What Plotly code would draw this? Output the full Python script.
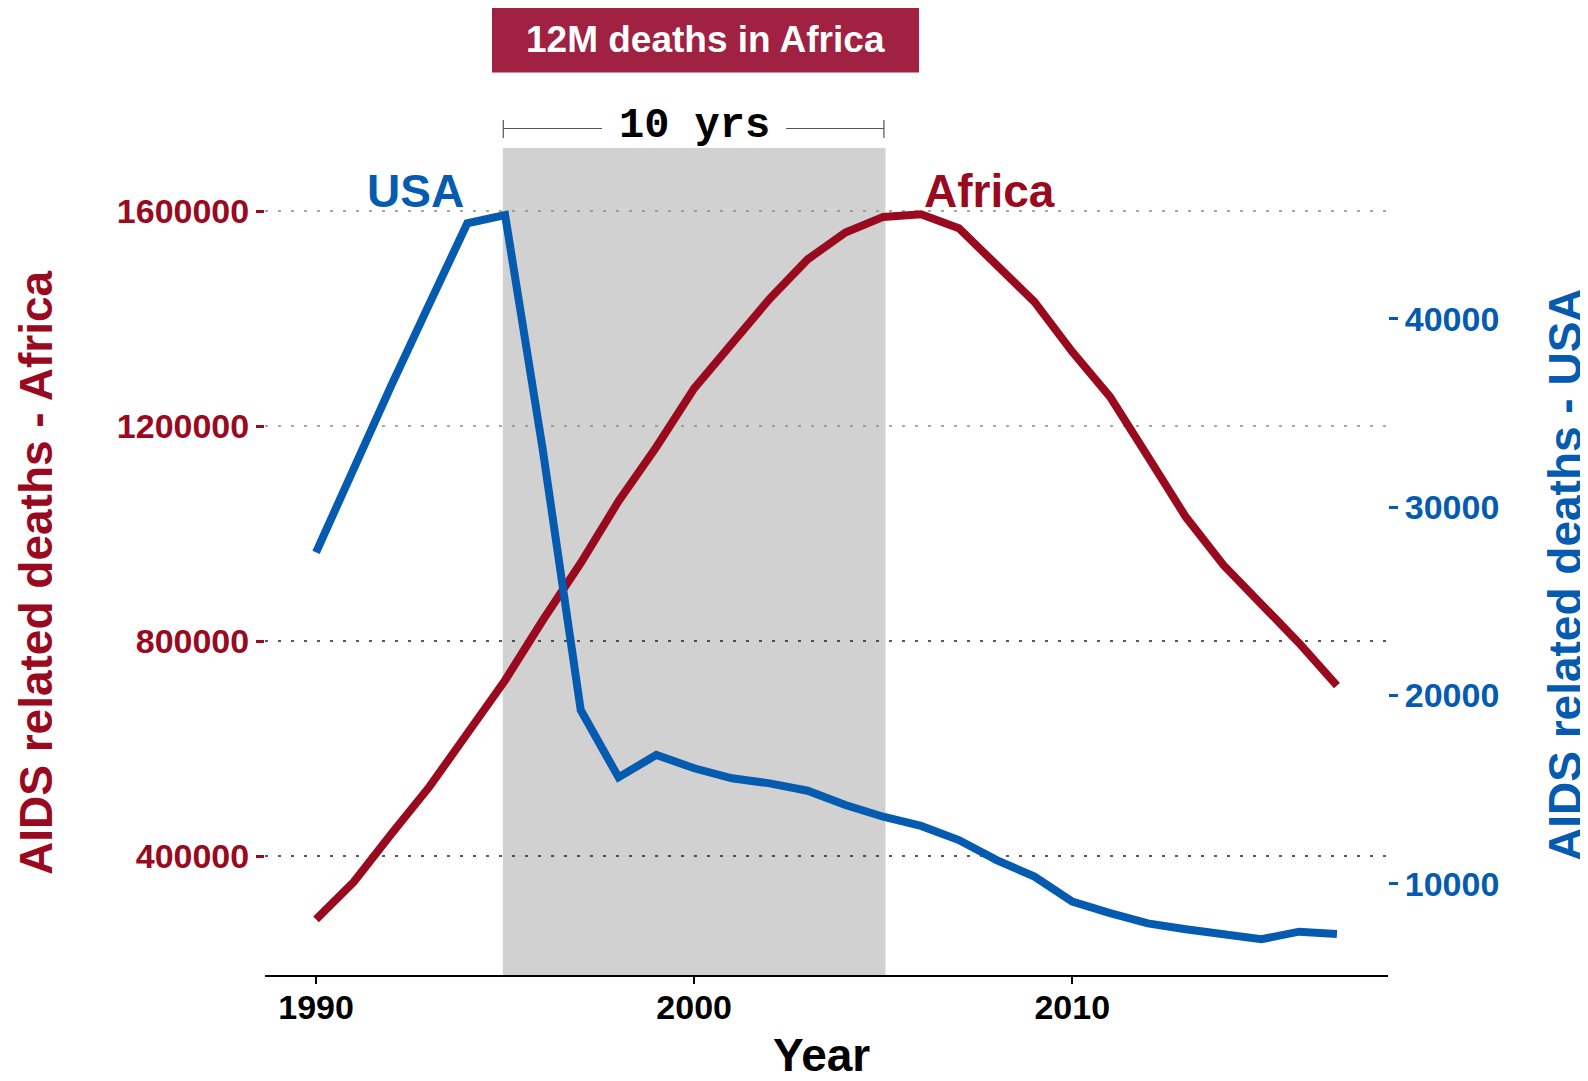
import plotly.graph_objects as go

# ---------------- data ----------------
years = list(range(1990, 2018))
africa_deaths = [282000, 352000, 442000, 529000, 628000, 727000, 839000, 945000,
                 1060000, 1161000, 1270000, 1354000, 1437000, 1510000, 1560000,
                 1589000, 1594000, 1568000, 1501000, 1431000, 1338000, 1254000,
                 1143000, 1031000, 941000, 870000, 796000, 717000]
usa_deaths = [27600, 32150, 36500, 40800, 45060, 45500, 33000, 19230, 15660,
              16850, 16140, 15610, 15340, 14950, 14190, 13570, 13080, 12330,
              11270, 10390, 9060, 8450, 7910, 7600, 7330, 7070, 7470, 7350]
x_ticks = [1990, 2000, 2010]
africa_ticks = [400000, 800000, 1200000, 1600000]
usa_ticks = [10000, 20000, 30000, 40000]
highlight_start, highlight_end = 1995, 2005

# ---------------- styles ----------------
RED = "#990A1F"
BLUE = "#055BB0"
BOX = "#A02141"
GREY_FILL = "#D1D1D1"
FONT = "Liberation Sans"
MONO = "Liberation Mono"

OFF = 8  # page body margin
W, H = 1580, 1065
ML, MR, MT, MB = 257, 200, 140, 98
PW = W - ML - MR
PH = H - MT - MB
X0, X1 = 1988.65, 2018.35
PAD = 0.06  # small visual overhang of the highlight band


def px_to_paper_x(px):
    return (px - OFF - ML) / PW


def px_to_paper_y(py):
    return (H - MB - (py - OFF)) / PH


def px_to_year(px):
    return X0 + (px - OFF - ML) / PW * (X1 - X0)


fig = go.Figure()
fig.add_trace(go.Scatter(x=years, y=africa_deaths, mode="lines",
                         line=dict(color=RED, width=8), yaxis="y",
                         name="Africa"))
fig.add_trace(go.Scatter(x=years, y=usa_deaths, mode="lines",
                         line=dict(color=BLUE, width=8), yaxis="y2",
                         name="USA"))

shapes = []
# highlighted decade
shapes.append(dict(type="rect", xref="x", yref="paper",
                   x0=highlight_start - PAD, x1=highlight_end + PAD, y0=0, y1=1,
                   fillcolor=GREY_FILL, line=dict(width=0), layer="below"))
# dotted gridlines
for v in africa_ticks:
    col = "#222222" if v < 1000000 else "#8A8A8A"
    shapes.append(dict(type="line", xref="paper", yref="y", x0=0, x1=1,
                       y0=v, y1=v, line=dict(color=col, width=1.4, dash="3px,10px"),
                       layer="below"))
# bracket over the highlight
by = px_to_paper_y(128.5)
bt = px_to_paper_y(120)
bb = px_to_paper_y(138)
gap_l = px_to_year(602)
gap_r = px_to_year(786)
bl, br = highlight_start - PAD * 0.8, highlight_end + PAD * 0.3
bracket_col = "#555555"
shapes += [
    dict(type="line", xref="x", yref="paper", x0=bl, x1=gap_l,
         y0=by, y1=by, line=dict(color=bracket_col, width=1.2)),
    dict(type="line", xref="x", yref="paper", x0=gap_r, x1=br,
         y0=by, y1=by, line=dict(color=bracket_col, width=1.2)),
    dict(type="line", xref="x", yref="paper", x0=bl, x1=bl,
         y0=bt, y1=bb, line=dict(color=bracket_col, width=1.2)),
    dict(type="line", xref="x", yref="paper", x0=br, x1=br,
         y0=bt, y1=bb, line=dict(color=bracket_col, width=1.2)),
]
# title box
shapes.append(dict(type="rect", xref="paper", yref="paper",
                   x0=px_to_paper_x(492), x1=px_to_paper_x(919),
                   y0=px_to_paper_y(72.5), y1=px_to_paper_y(7.5),
                   fillcolor=BOX, line=dict(width=0), layer="above"))

annotations = [
    dict(text="12M deaths in Africa", xref="paper", yref="paper",
         x=px_to_paper_x(705.5), y=px_to_paper_y(40), showarrow=False,
         xanchor="center", yanchor="middle",
         font=dict(family=FONT, size=37, color="white", weight="bold")),
    dict(text="10 yrs", xref="x", yref="paper",
         x=px_to_year(694), y=px_to_paper_y(126),
         showarrow=False, xanchor="center", yanchor="middle",
         font=dict(family=MONO, size=42, color="black", weight="bold")),
    dict(text="USA", xref="x", yref="paper", x=px_to_year(415), y=px_to_paper_y(191),
         showarrow=False, xanchor="center", yanchor="middle",
         font=dict(family=FONT, size=46, color=BLUE, weight="bold")),
    dict(text="Africa", xref="x", yref="paper", x=px_to_year(989), y=px_to_paper_y(191),
         showarrow=False, xanchor="center", yanchor="middle",
         font=dict(family=FONT, size=46, color=RED, weight="bold")),
    dict(text="Year", xref="paper", yref="paper", x=px_to_paper_x(821),
         y=px_to_paper_y(1055), showarrow=False, xanchor="center", yanchor="middle",
         font=dict(family=FONT, size=46, color="black", weight="bold")),
    dict(text="AIDS related deaths - Africa", xref="paper", yref="paper",
         x=px_to_paper_x(36), y=px_to_paper_y(573), textangle=-90,
         showarrow=False, xanchor="center", yanchor="middle",
         font=dict(family=FONT, size=46, color=RED, weight="bold")),
    dict(text="AIDS related deaths - USA", xref="paper", yref="paper",
         x=px_to_paper_x(1565), y=px_to_paper_y(575), textangle=-90,
         showarrow=False, xanchor="center", yanchor="middle",
         font=dict(family=FONT, size=46, color=BLUE, weight="bold")),
]

fig.update_layout(
    width=W, height=H,
    margin=dict(l=ML, r=MR, t=MT, b=MB, pad=0),
    paper_bgcolor="white", plot_bgcolor="white",
    showlegend=False,
    shapes=shapes, annotations=annotations,
    xaxis=dict(range=[X0, X1], tickvals=x_ticks, ticks="outside",
               ticklen=7, tickwidth=2, tickcolor="black",
               ticklabelstandoff=-6,
               showline=True, linecolor="black", linewidth=2,
               showgrid=False, zeroline=False,
               tickfont=dict(family=FONT, size=34, color="black", weight="bold")),
    yaxis=dict(range=[178600, 1717200], tickvals=africa_ticks, tickformat="d",
               ticks="outside", ticklen=8, tickwidth=2.5, tickcolor=RED,
               showline=False, showgrid=False, zeroline=False,
               tickfont=dict(family=FONT, size=34, color=RED, weight="bold")),
    yaxis2=dict(range=[5170, 49059], tickvals=usa_ticks, tickformat="d",
                overlaying="y", side="right",
                ticks="outside", ticklen=9, tickwidth=2.5, tickcolor=BLUE,
                showline=False, showgrid=False, zeroline=False,
                tickfont=dict(family=FONT, size=34, color=BLUE, weight="bold")),
)

fig.write_html("out.html")
